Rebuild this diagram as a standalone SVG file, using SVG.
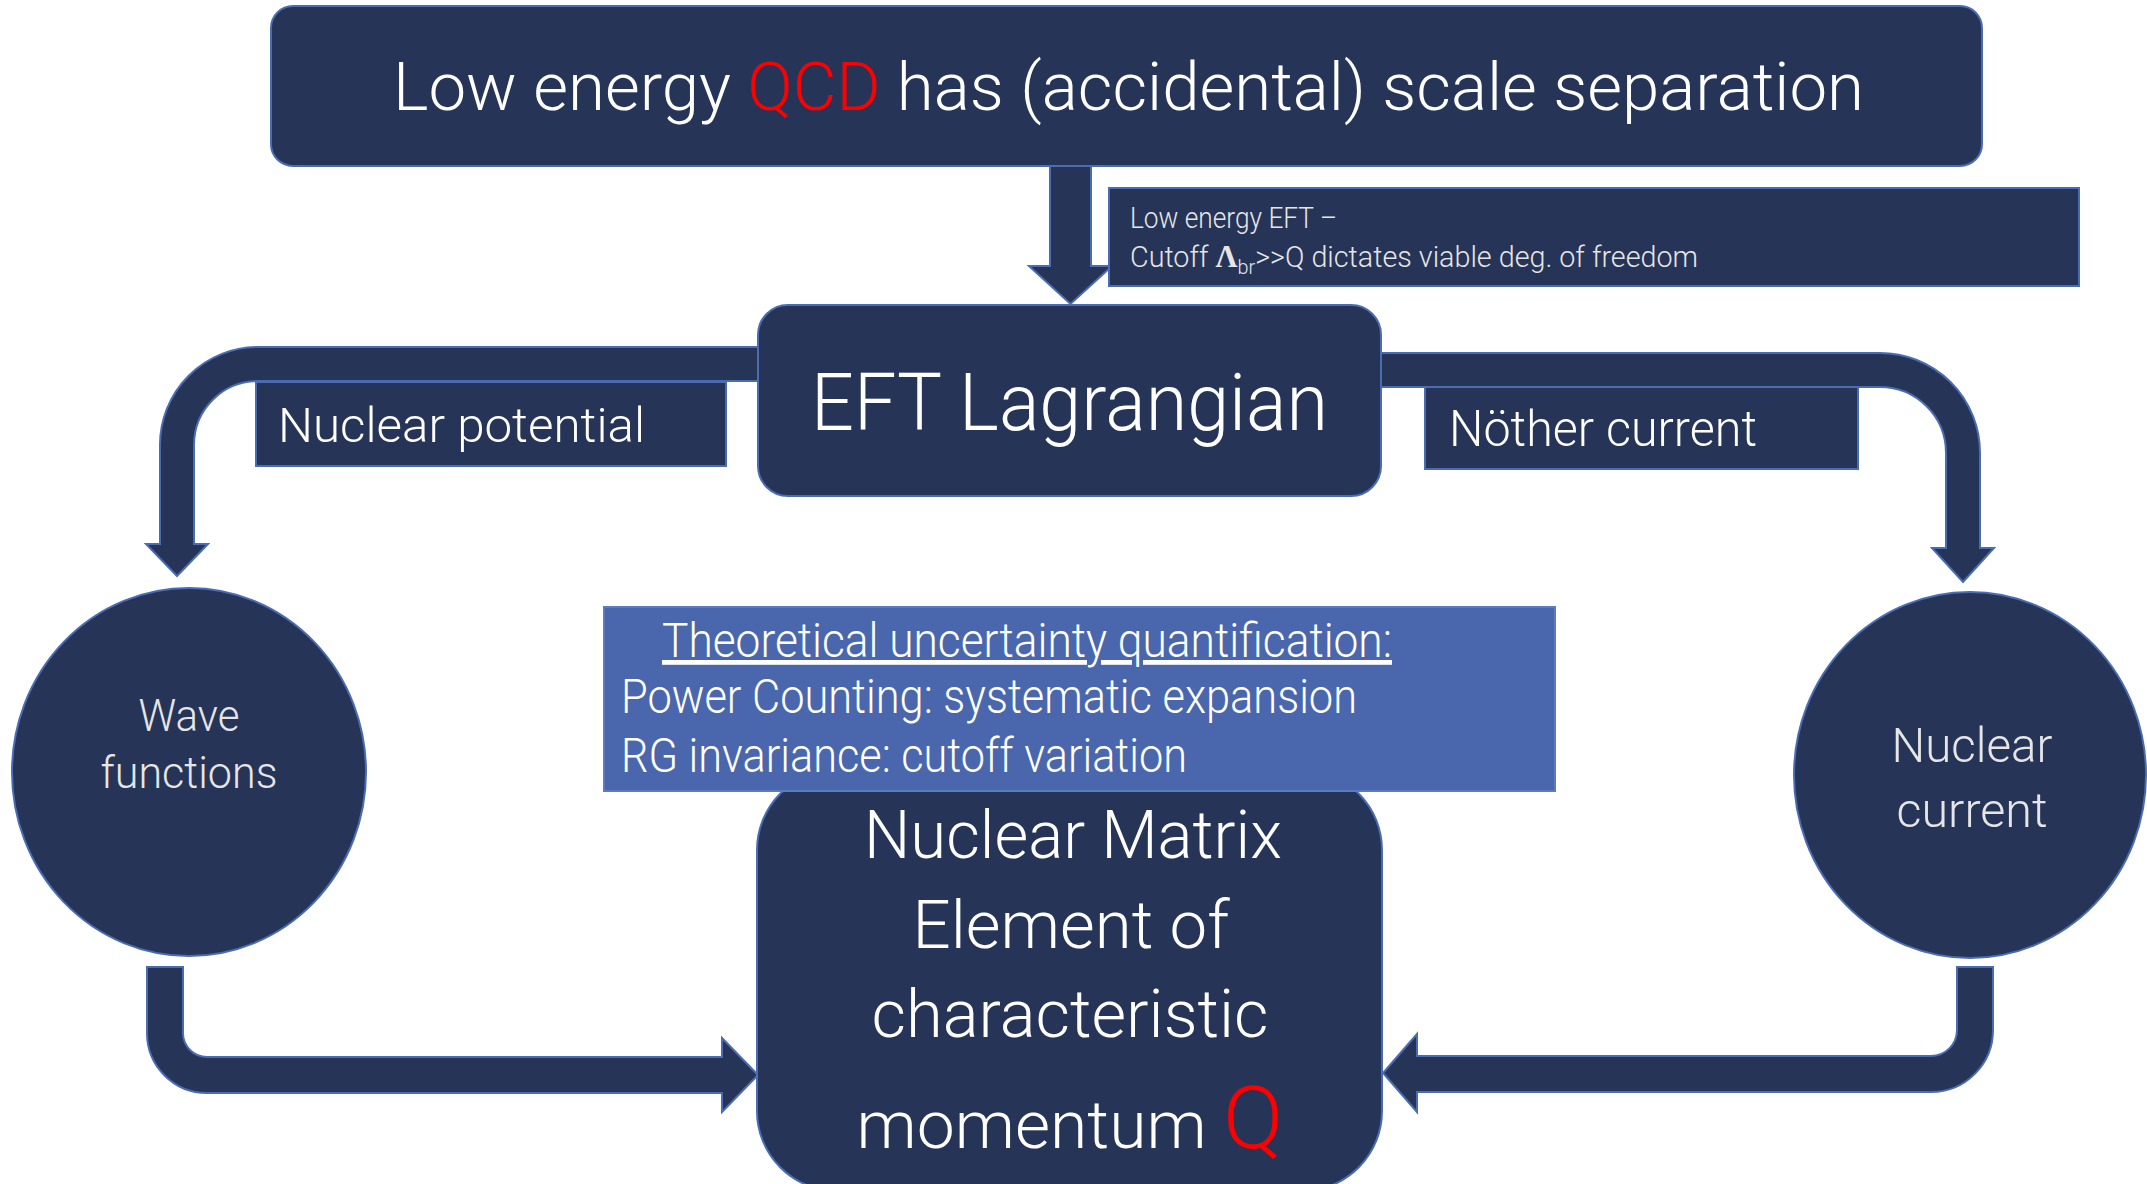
<svg xmlns="http://www.w3.org/2000/svg" width="2147" height="1184" viewBox="0 0 2147 1184">
<style>
.nav{fill:#263458;stroke:#4a6cb2;stroke-width:2}
.lbl{fill:#263458;stroke:#4a6cb2;stroke-width:2}
.t{font-family:Roboto,"Liberation Sans",sans-serif;font-weight:300;fill:#ffffff}
.g{fill:#e6e6e6}
.red{fill:#ff0000}
</style>
<rect width="2147" height="1184" fill="#ffffff"/>
<g id="connectors">
<path class="nav" d="M1050,166 L1091,166 L1091,266 L1112,266 L1070.5,304 L1029,266 L1050,266 Z"/>
<path class="nav" d="M760,347 L258,347 A98,98 0 0 0 160,445 L160,544 L146,544 L177,576 L208,544 L194,544 L194,445 A64,64 0 0 1 258,381 L760,381 Z"/>
<path class="nav" d="M1378,353 L1880,353 A100,100 0 0 1 1980,453 L1980,548 L1994,548 L1963,582 L1932,548 L1946,548 L1946,453 A66,66 0 0 0 1880,387 L1378,387 Z"/>
<path class="nav" d="M147,967 L183,967 L183,1033 A24,24 0 0 0 207,1057 L722,1057 L722,1038 L758,1075 L722,1112 L722,1093 L207,1093 A60,60 0 0 1 147,1033 Z"/>
<path class="nav" d="M1993,967 L1957,967 L1957,1030 A26,26 0 0 1 1931,1056 L1417,1056 L1417,1034 L1383,1073 L1417,1112 L1417,1092 L1931,1092 A62,62 0 0 0 1993,1030 Z"/>
</g>
<g id="node-qcd">
<rect class="nav" x="271" y="6" width="1711" height="160" rx="22"/>
<text class="t" x="393" y="110" font-size="67" textLength="1471" lengthAdjust="spacingAndGlyphs">Low energy <tspan class="red">QCD</tspan> has (accidental) scale separation</text>
</g>
<g id="label-eft">
<rect class="lbl" x="1109" y="188" width="970" height="98"/>
<text class="t g" x="1130" y="228" font-size="29" textLength="207" lengthAdjust="spacingAndGlyphs">Low energy EFT –</text>
<text class="t g" x="1130" y="267" font-size="29" textLength="568" lengthAdjust="spacingAndGlyphs">Cutoff <tspan font-family="'Liberation Serif',serif" font-weight="700" font-size="31">Λ</tspan><tspan font-size="20" dy="7">br</tspan><tspan dy="-7">&gt;&gt;Q dictates viable deg. of freedom</tspan></text>
</g>
<g id="node-eft">
<rect class="nav" x="758" y="305" width="623" height="191" rx="30"/>
<text class="t" x="811" y="430" font-size="80" textLength="517" lengthAdjust="spacingAndGlyphs">EFT Lagrangian</text>
</g>
<g id="label-potential">
<rect class="lbl" x="256" y="382" width="470" height="84"/>
<text class="t" x="278" y="442" font-size="49" textLength="367" lengthAdjust="spacingAndGlyphs">Nuclear potential</text>
</g>
<g id="label-noether">
<rect class="lbl" x="1425" y="387" width="433" height="82"/>
<text class="t" x="1449" y="446" font-size="50" textLength="308" lengthAdjust="spacingAndGlyphs">Nöther current</text>
</g>
<g id="node-wave">
<ellipse class="nav" cx="189" cy="772" rx="177" ry="184"/>
<text class="t g" x="189" y="731" font-size="45" text-anchor="middle" textLength="101" lengthAdjust="spacingAndGlyphs">Wave</text>
<text class="t g" x="189" y="788" font-size="45" text-anchor="middle" textLength="177" lengthAdjust="spacingAndGlyphs">functions</text>
</g>
<g id="node-current">
<ellipse class="nav" cx="1970" cy="775" rx="176" ry="183"/>
<text class="t g" x="1972" y="762" font-size="49" text-anchor="middle" textLength="161" lengthAdjust="spacingAndGlyphs">Nuclear</text>
<text class="t g" x="1972" y="827" font-size="49" text-anchor="middle" textLength="151" lengthAdjust="spacingAndGlyphs">current</text>
</g>
<g id="node-matrix">
<rect class="nav" x="757" y="770" width="625" height="421" rx="80"/>
<text class="t" x="1073" y="858" font-size="67" text-anchor="middle" textLength="418" lengthAdjust="spacingAndGlyphs">Nuclear Matrix</text>
<text class="t" x="1071" y="948" font-size="67" text-anchor="middle" textLength="317" lengthAdjust="spacingAndGlyphs">Element of</text>
<text class="t" x="1070" y="1037" font-size="67" text-anchor="middle" textLength="397" lengthAdjust="spacingAndGlyphs">characteristic</text>
<text class="t" x="1070" y="1148" font-size="67" text-anchor="middle" textLength="427" lengthAdjust="spacingAndGlyphs">momentum <tspan class="red" font-size="88">Q</tspan></text>
</g>
<g id="node-uncertainty">
<rect x="604" y="607" width="951" height="184" fill="#4a67ad" stroke="#5b7cc0" stroke-width="2"/>
<text class="t" x="662" y="657" font-size="48" text-decoration="underline" textLength="730" lengthAdjust="spacingAndGlyphs">Theoretical uncertainty quantification:</text>
<text class="t" x="621" y="713" font-size="48" textLength="736" lengthAdjust="spacingAndGlyphs">Power Counting: systematic expansion</text>
<text class="t" x="621" y="772" font-size="48" textLength="566" lengthAdjust="spacingAndGlyphs">RG invariance: cutoff variation</text>
</g>
</svg>
